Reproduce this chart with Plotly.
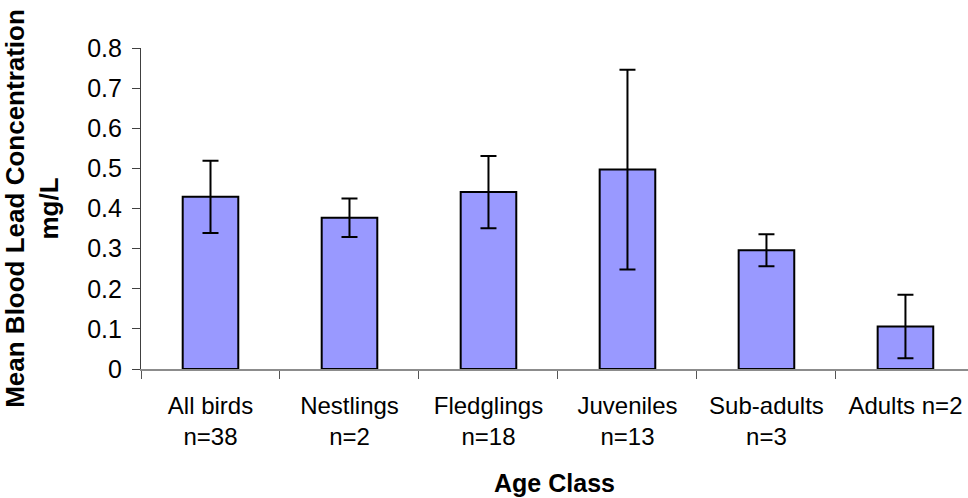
import plotly.graph_objects as go

age_classes = ["All birds", "Nestlings", "Fledglings", "Juveniles", "Sub-adults", "Adults"]
sample_sizes = ["n=38", "n=2", "n=18", "n=13", "n=3", "n=2"]
mean_lead = [0.429, 0.377, 0.441, 0.497, 0.296, 0.106]
error_lead = [0.090, 0.048, 0.090, 0.249, 0.040, 0.079]
y_ticks = [0, 0.1, 0.2, 0.3, 0.4, 0.5, 0.6, 0.7, 0.8]
y_tick_text = ["0", "0.1", "0.2", "0.3", "0.4", "0.5", "0.6", "0.7", "0.8"]

labels = []
for i, (a, n) in enumerate(zip(age_classes, sample_sizes)):
    if i == len(age_classes) - 1:
        labels.append(f"{a} {n}")
    else:
        labels.append(f"{a}<br>{n}")

FONT = "Liberation Sans, Arial, sans-serif"

fig = go.Figure()
fig.add_trace(go.Bar(
    x=labels,
    y=mean_lead,
    width=0.40,
    marker=dict(color="#9999FF", line=dict(color="black", width=2)),
    error_y=dict(type="data", array=error_lead, visible=True,
                 color="black", thickness=2, width=8),
))

fig.update_layout(
    width=968, height=498,
    margin=dict(l=141, r=0, t=48, b=129),
    paper_bgcolor="white", plot_bgcolor="white",
    font=dict(family=FONT, size=24, color="black"),
    showlegend=False,
)
fig.update_xaxes(
    type="category",
    range=[-0.5, 5.45],
    showline=True, linecolor="#8c8c8c", linewidth=1.5,
    ticks="outside", tickson="boundaries", ticklen=8, tickcolor="#555",
    ticklabelstandoff=14,
    tickfont=dict(family=FONT, size=24),
    showgrid=False, zeroline=False,
    title=dict(text="<b>Age Class</b>", font=dict(family=FONT, size=25), standoff=26),
)
fig.update_yaxes(
    range=[0, 0.8],
    tickvals=y_ticks, ticktext=y_tick_text,
    showline=True, linecolor="#404040", linewidth=1.2,
    ticks="outside", ticklen=8, tickcolor="#404040",
    ticklabelstandoff=5,
    tickfont=dict(family=FONT, size=25),
    showgrid=False, zeroline=False,
    title=dict(text="<b>Mean Blood Lead Concentration<br>mg/L</b>",
               font=dict(family=FONT, size=26), standoff=24),
)

fig.write_html("out.html",
               config={"displayModeBar": False},
               post_script="document.body.style.margin='0';document.body.style.overflow='hidden';")
